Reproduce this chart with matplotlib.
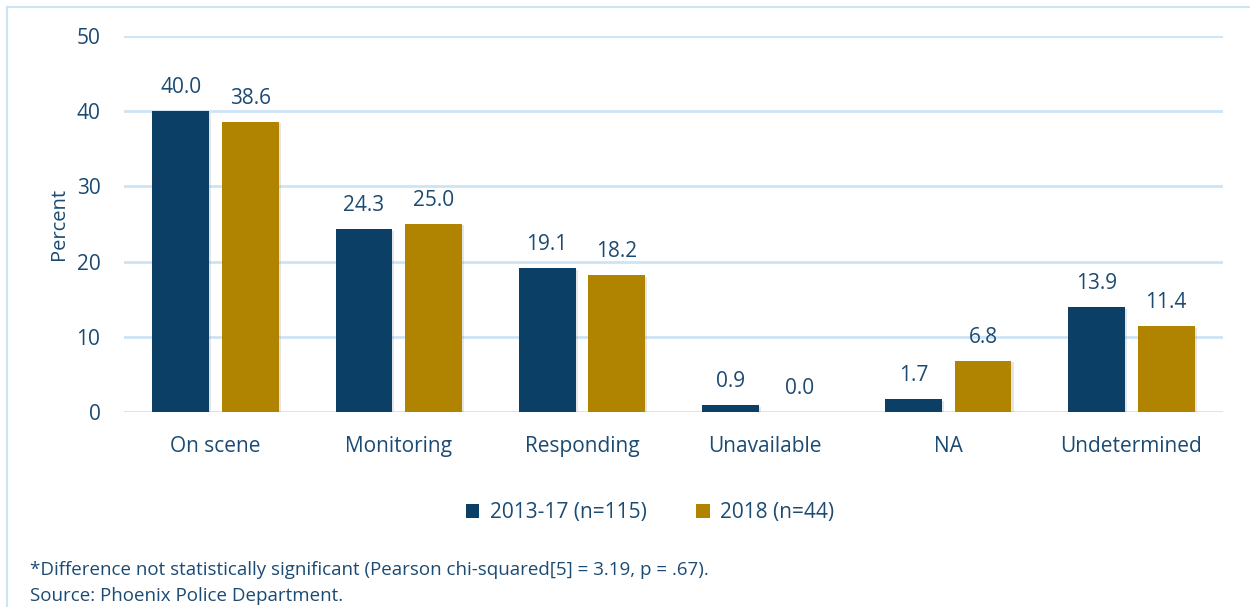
import numpy as np
import matplotlib.pyplot as plt
from matplotlib.lines import Line2D
from matplotlib.patches import Patch
import matplotlib.patheffects as pe

plt.rcParams["font.family"] = ["Open Sans", "DejaVu Sans"]

TEXT_COLOR = "#1b4a73"
NAVY = "#0c3f66"
GOLD = "#b08400"
GRID_COLOR = "#cde4f5"

categories = ["On scene", "Monitoring", "Responding", "Unavailable", "NA", "Undetermined"]
values_1317 = [40.0, 24.3, 19.1, 0.9, 1.7, 13.9]
values_2018 = [38.6, 25.0, 18.2, 0.0, 6.8, 11.4]
series_labels = ["2013-17 (n=115)", "2018 (n=44)"]
yticks = [0, 10, 20, 30, 40, 50]

FS = 15

fig = plt.figure(figsize=(12.5, 6.07), dpi=100)
ax = fig.add_axes([0.0992, 0.3212, 0.8792, 0.6195])

x = np.arange(len(categories))
width = 0.31
offset = 0.19
shadow = [pe.SimplePatchShadow(offset=(1.5, -1.0), shadow_rgbFace="#999999", alpha=0.25), pe.Normal()]

b1 = ax.bar(x - offset, values_1317, width, color=NAVY, zorder=3, path_effects=shadow)
b2 = ax.bar(x + offset, values_2018, width, color=GOLD, zorder=3, path_effects=shadow)

for bars, vals in ((b1, values_1317), (b2, values_2018)):
    for rect, v in zip(bars, vals):
        ax.annotate(f"{v:.1f}", (rect.get_x() + rect.get_width() / 2, v),
                    xytext=(0, 13), textcoords="offset points", ha="center", va="baseline",
                    fontsize=FS, color=TEXT_COLOR)

ax.set_xlim(-0.5, len(categories) - 0.5)
ax.set_ylim(0, 50)
ax.set_yticks(yticks)
ax.set_xticks(x)
ax.set_xticklabels(categories)
ax.tick_params(axis="both", length=0, labelsize=FS, colors=TEXT_COLOR)
ax.tick_params(axis="x", pad=17)
ax.tick_params(axis="y", pad=17)
ax.grid(axis="y", color=GRID_COLOR, linewidth=2, zorder=0)
ax.set_axisbelow(True)
for s in ax.spines.values():
    s.set_visible(False)

ax.set_ylabel("Percent", color=TEXT_COLOR, fontsize=FS - 0.5)
ax.yaxis.set_label_coords(-0.05, 0.5)

handles = [Patch(facecolor=NAVY), Patch(facecolor=GOLD)]
fig.legend(handles, series_labels, loc="center", bbox_to_anchor=(0.52, 0.155), ncol=2,
           frameon=False, fontsize=FS, labelcolor=TEXT_COLOR, handlelength=0.65,
           handleheight=0.65, handletextpad=0.5, columnspacing=2.4)

fig.text(0.024, 0.061, "*Difference not statistically significant (Pearson chi-squared[5] = 3.19, p = .67).",
         fontsize=13.5, color=TEXT_COLOR, va="center")
fig.text(0.024, 0.018, "Source: Phoenix Police Department.",
         fontsize=13.5, color=TEXT_COLOR, va="center")

# light frame along the left and top edges
fig.add_artist(Line2D([0.0056, 0.0056], [0, 0.9885], transform=fig.transFigure, color=GRID_COLOR, lw=1.5))
fig.add_artist(Line2D([0.0056, 1.0], [0.9885, 0.9885], transform=fig.transFigure, color=GRID_COLOR, lw=1.5))

fig.savefig("out.png", dpi=100, facecolor="white")
